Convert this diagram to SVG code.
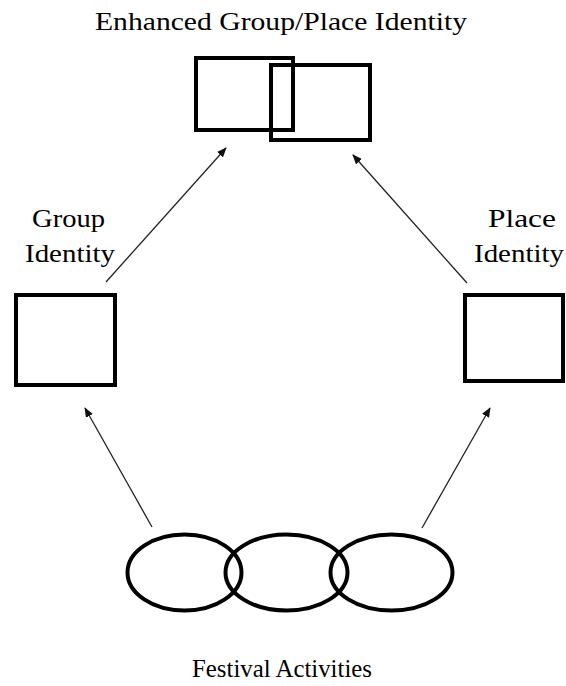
<svg xmlns="http://www.w3.org/2000/svg" width="566" height="686" viewBox="0 0 566 686">
  <style>
    .box { fill: none; stroke: #000; stroke-width: 4; }
    .ring { fill: none; stroke: #000; stroke-width: 4; }
    .label { font-family: "Liberation Serif", "Times New Roman", serif; font-size: 26px; fill: #000; }
    .link { stroke: #222; stroke-width: 1.3; fill: none; marker-end: url(#head); }
  </style>
  <defs>
    <marker id="head" viewBox="0 0 10 8" refX="9" refY="4" markerWidth="10" markerHeight="8" markerUnits="userSpaceOnUse" orient="auto">
      <path d="M0,0 L10,4 L0,8 Z" fill="#111"/>
    </marker>
  </defs>
  <rect width="566" height="686" fill="#fff"/>

  <g id="enhanced-identity">
    <text class="label" x="95" y="30" textLength="372" lengthAdjust="spacingAndGlyphs">Enhanced Group/Place Identity</text>
    <rect class="box" x="196" y="58" width="97" height="72"/>
    <rect class="box" x="271" y="65" width="99" height="75"/>
  </g>

  <g id="group-identity">
    <text class="label" x="32" y="227" textLength="73" lengthAdjust="spacingAndGlyphs">Group</text>
    <text class="label" x="25" y="262" textLength="90" lengthAdjust="spacingAndGlyphs">Identity</text>
    <rect class="box" x="16" y="295" width="99" height="90"/>
  </g>

  <g id="place-identity">
    <text class="label" x="488" y="227" textLength="68" lengthAdjust="spacingAndGlyphs">Place</text>
    <text class="label" x="474" y="262" textLength="90" lengthAdjust="spacingAndGlyphs">Identity</text>
    <rect class="box" x="465" y="295" width="98" height="86"/>
  </g>

  <g id="festival-activities">
    <ellipse class="ring" cx="184.5" cy="572.5" rx="57" ry="38"/>
    <ellipse class="ring" cx="286.5" cy="572.5" rx="61" ry="38"/>
    <ellipse class="ring" cx="391.5" cy="572.5" rx="61" ry="38"/>
    <text class="label" x="192" y="677" textLength="180" lengthAdjust="spacingAndGlyphs">Festival Activities</text>
  </g>

  <g id="connectors">
    <line class="link" x1="152" y1="527" x2="85" y2="408"/>
    <line class="link" x1="422" y1="528" x2="490" y2="408"/>
    <line class="link" x1="106" y1="282" x2="226" y2="148"/>
    <line class="link" x1="467" y1="283" x2="353" y2="155"/>
  </g>
</svg>
